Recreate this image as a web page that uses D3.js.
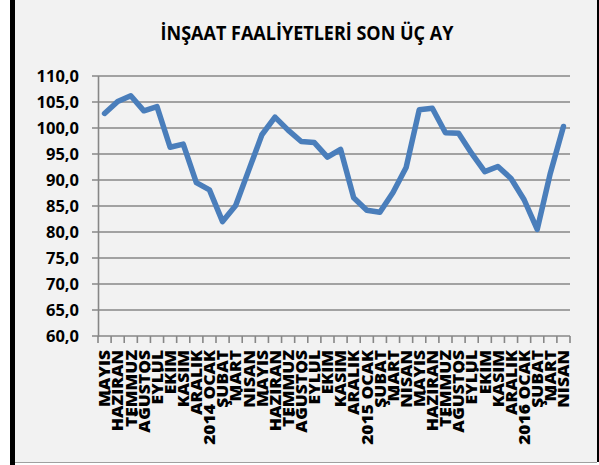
<!DOCTYPE html>
<html><head><meta charset="utf-8">
<script src="https://cdn.jsdelivr.net/npm/d3@7"></script>
<style>html,body{margin:0;padding:0;background:#fff;}svg{display:block;}</style>
</head><body>
<script>
const title = "İNŞAAT FAALİYETLERİ SON ÜÇ AY";
const categories = ["MAYIS","HAZİRAN","TEMMUZ","AĞUSTOS","EYLÜL","EKİM","KASIM","ARALIK","2014 OCAK","ŞUBAT","MART","NİSAN",
  "MAYIS","HAZİRAN","TEMMUZ","AĞUSTOS","EYLÜL","EKİM","KASIM","ARALIK","2015 OCAK","ŞUBAT","MART","NİSAN",
  "MAYIS","HAZİRAN","TEMMUZ","AĞUSTOS","EYLÜL","EKİM","KASIM","ARALIK","2016 OCAK","ŞUBAT","MART","NİSAN"];
const values = [102.8,105.1,106.2,103.3,104.1,96.3,96.9,89.5,88.1,82.0,85.1,91.9,
  98.7,102.1,99.6,97.4,97.2,94.4,95.9,86.6,84.2,83.8,87.6,92.4,
  103.5,103.8,99.1,99.0,95.1,91.6,92.6,90.3,86.2,80.5,91.3,100.3];
const yTicks = [60,65,70,75,80,85,90,95,100,105,110];

const W = 599, H = 465;
const svg = d3.select("body").append("svg").attr("width", W).attr("height", H);
const font = "'Open Sans', 'DejaVu Sans', sans-serif";

// background & frame
svg.append("rect").attr("x",0).attr("y",0).attr("width",W).attr("height",H).attr("fill","#fff");
svg.append("rect").attr("x",15).attr("y",0).attr("width",582).attr("height",462).attr("fill","#f2f2f2");
svg.append("rect").attr("x",10).attr("y",0).attr("width",5).attr("height",H).attr("fill","#000");
svg.append("rect").attr("x",597).attr("y",0).attr("width",2).attr("height",462).attr("fill","#000");
svg.append("line").attr("x1",15).attr("x2",597).attr("y1",462.5).attr("y2",462.5).attr("stroke","#a0a0a0").attr("stroke-width",1);

const x = d3.scaleBand().domain(d3.range(categories.length)).range([98,570]);
const y = d3.scaleLinear().domain([60,110]).range([336,76]);

// gridlines
const grid = svg.append("g");
yTicks.forEach(t => {
  grid.append("line").attr("x1",92).attr("x2",570).attr("y1",y(t)).attr("y2",y(t))
    .attr("stroke","#878787").attr("stroke-width",1.6);
});
// y axis line
svg.append("line").attr("x1",98.5).attr("x2",98.5).attr("y1",y(110)).attr("y2",y(60)+1)
  .attr("stroke","#878787").attr("stroke-width",1.6);

// y labels
const fmt = v => d3.format(".1f")(v).replace(".", ",");
svg.append("g").selectAll("text").data(yTicks).join("text")
  .attr("x",79).attr("y",d=>y(d)).attr("dy","0.36em")
  .attr("text-anchor","end").attr("font-family",font).attr("font-weight","bold")
  .attr("font-size",16.5).attr("fill","#000").text(fmt);

// x tick marks at band boundaries
const bounds = d3.range(categories.length+1).map(i => i < categories.length ? x(i) : x.range()[1]);
svg.append("g").selectAll("line").data(bounds).join("line")
  .attr("x1",d=>d).attr("x2",d=>d).attr("y1",336).attr("y2",343)
  .attr("stroke","#878787").attr("stroke-width",1.6);

// x labels
const cx = i => x(i) + x.bandwidth()/2;
const xl = svg.append("g");
const labels = xl.selectAll("text").data(categories).join("text")
  .attr("text-anchor","end").attr("font-family",font).attr("font-weight","800")
  .attr("font-size",16).attr("fill","#000").attr("dy","0.36em").text(d=>d);
const refLen = labels.filter((d,i)=>i===0).node().getComputedTextLength();
const sx = 57/refLen;
labels.attr("transform",(d,i)=>`translate(${cx(i)},350) rotate(-90) scale(${sx},1)`);

// line
const line = d3.line().x((d,i)=>cx(i)).y(d=>y(d));
svg.append("path").datum(values).attr("d",line).attr("fill","none")
  .attr("stroke","#4a7ebb").attr("stroke-width",5.5).attr("stroke-linejoin","round").attr("stroke-linecap","round");

// title
const t = svg.append("text").attr("x",307).attr("y",40).attr("text-anchor","middle")
  .attr("font-family",font).attr("font-weight","bold").attr("font-size",19).attr("fill","#000").text(title);
const tl = t.node().getComputedTextLength();
t.attr("transform",`translate(307,0) scale(${293/tl},1) translate(-307,0)`);
</script>
</body></html>
